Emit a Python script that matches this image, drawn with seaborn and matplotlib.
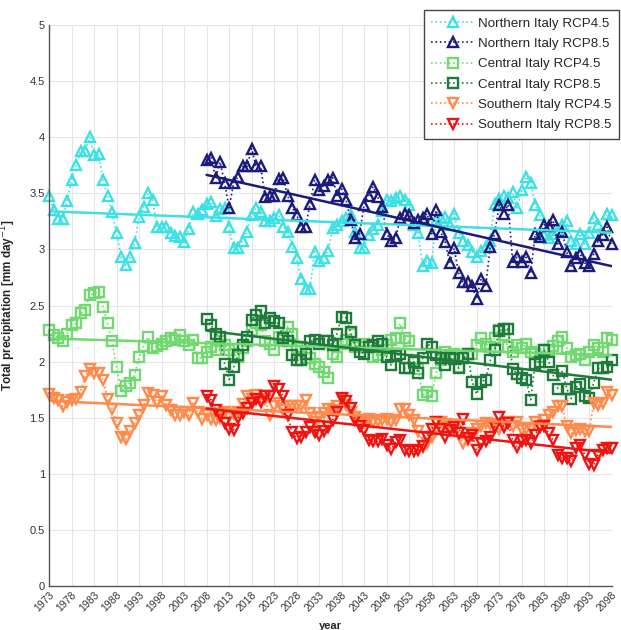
import numpy as np
import pandas as pd
import seaborn as sns
import matplotlib.pyplot as plt

# Years covered by the two kinds of run
years_45 = np.arange(1973, 2099)
years_85 = np.arange(2008, 2099)

# Northern Italy
north_rcp45 = [
    3.48, 3.35, 3.27, 3.27, 3.43, 3.62, 3.75, 3.88, 3.88, 4.00,
    3.84, 3.85, 3.62, 3.48, 3.33, 3.15, 2.93, 2.86, 2.93, 3.06,
    3.29, 3.38, 3.50, 3.44, 3.20, 3.20, 3.20, 3.15, 3.12, 3.11,
    3.07, 3.18, 3.33, 3.32, 3.35, 3.41, 3.42, 3.30, 3.36, 3.37,
    3.20, 3.01, 3.01, 3.08, 3.16, 3.31, 3.37, 3.33, 3.25, 3.25,
    3.28, 3.31, 3.20, 3.16, 3.02, 2.92, 2.74, 2.65, 2.65, 2.98,
    2.90, 2.92, 2.99, 3.19, 3.22, 3.25, 3.28, 3.31, 3.16, 3.01,
    3.01, 3.13, 3.18, 3.22, 3.34, 3.44, 3.43, 3.46, 3.48, 3.44,
    3.40, 3.22, 3.15, 2.85, 2.90, 2.88, 3.26, 3.28, 3.29, 3.22,
    3.32, 3.15, 3.08, 3.04, 2.98, 2.93, 2.99, 3.02, 3.08, 3.41,
    3.45, 3.48, 3.46, 3.51, 3.37, 3.53, 3.65, 3.59, 3.40, 3.31,
    3.13, 3.10, 3.14, 3.17, 3.22, 3.25, 3.08, 3.05, 3.14, 3.05,
    3.15, 3.28, 3.22, 3.13, 3.32, 3.31,
]
north_rcp85 = [
    3.80, 3.82, 3.64, 3.78, 3.59, 3.37, 3.59, 3.65, 3.74, 3.74,
    3.90, 3.74, 3.74, 3.47, 3.48, 3.48, 3.63, 3.64, 3.48, 3.37,
    3.31, 3.20, 3.20, 3.41, 3.62, 3.53, 3.57, 3.62, 3.64, 3.48,
    3.54, 3.44, 3.26, 3.10, 3.14, 3.40, 3.48, 3.56, 3.47, 3.38,
    3.14, 3.08, 3.10, 3.28, 3.32, 3.31, 3.24, 3.26, 3.28, 3.32,
    3.14, 3.35, 3.16, 3.07, 2.88, 3.01, 2.79, 2.71, 2.71, 2.67,
    2.56, 2.74, 2.67, 3.02, 3.14, 3.40, 3.32, 3.40, 2.89, 2.93,
    2.89, 2.93, 2.79, 3.14, 3.11, 3.22, 3.21, 3.26, 3.05, 3.16,
    2.98, 2.85, 2.92, 2.96, 2.88, 2.85, 2.96, 3.08, 3.13, 3.20,
    3.05,
]

# Central Italy
central_rcp45 = [
    2.28, 2.24, 2.21, 2.18, 2.25, 2.33, 2.34, 2.43, 2.46, 2.59,
    2.61, 2.62, 2.49, 2.34, 2.18, 1.95, 1.74, 1.78, 1.81, 1.88,
    2.04, 2.14, 2.22, 2.12, 2.14, 2.16, 2.18, 2.21, 2.19, 2.24,
    2.18, 2.15, 2.19, 2.03, 2.03, 2.09, 2.13, 2.10, 2.18, 2.15,
    2.10, 2.07, 2.04, 2.12, 2.18, 2.28, 2.34, 2.33, 2.18, 2.16,
    2.10, 2.22, 2.19, 2.31, 2.25, 2.12, 2.13, 2.03, 2.03, 1.98,
    1.95, 1.91, 1.85, 2.07, 2.04, 2.16, 2.19, 2.25, 2.13, 2.13,
    2.16, 2.15, 2.04, 2.06, 2.10, 2.15, 2.19, 2.21, 2.34, 2.21,
    2.18, 2.01, 1.93, 1.70, 1.73, 1.69, 1.90, 2.01, 2.09, 2.04,
    2.07, 1.95, 2.03, 2.07, 2.07, 2.15, 2.21, 2.16, 2.13, 2.21,
    2.28, 2.24, 2.13, 2.09, 2.15, 2.12, 2.16, 2.09, 2.07, 2.04,
    2.10, 2.10, 2.14, 2.18, 2.22, 2.12, 2.04, 2.06, 2.07, 2.01,
    2.09, 2.15, 2.12, 2.09, 2.21, 2.19,
]
central_rcp85 = [
    2.38, 2.33, 2.25, 2.22, 1.98, 1.84, 1.95, 2.06, 2.15, 2.22,
    2.37, 2.42, 2.45, 2.34, 2.39, 2.36, 2.34, 2.21, 2.18, 2.06,
    2.01, 2.01, 2.07, 2.18, 2.19, 2.16, 2.18, 2.18, 2.15, 2.25,
    2.40, 2.39, 2.26, 2.15, 2.09, 2.07, 2.13, 2.15, 2.18, 2.16,
    2.04, 1.97, 2.05, 2.07, 1.94, 1.94, 2.00, 1.90, 2.03, 2.16,
    2.13, 2.06, 2.03, 1.97, 2.03, 2.02, 1.94, 2.03, 2.07, 1.82,
    1.71, 1.82, 1.84, 2.01, 2.10, 2.27, 2.29, 2.29, 1.93, 1.89,
    1.85, 1.84, 1.66, 1.98, 2.00, 2.10, 2.00, 1.88, 1.76, 1.92,
    1.76, 1.67, 1.77, 1.80, 1.69, 1.68, 1.81, 1.94, 1.94, 1.95,
    2.01,
]

# Southern Italy
south_rcp45 = [
    1.71, 1.68, 1.66, 1.60, 1.64, 1.66, 1.67, 1.73, 1.87, 1.93,
    1.90, 1.90, 1.84, 1.67, 1.58, 1.45, 1.33, 1.31, 1.38, 1.45,
    1.52, 1.61, 1.72, 1.70, 1.64, 1.69, 1.61, 1.57, 1.52, 1.52,
    1.55, 1.52, 1.63, 1.55, 1.49, 1.52, 1.49, 1.48, 1.50, 1.55,
    1.51, 1.53, 1.55, 1.62, 1.69, 1.67, 1.70, 1.66, 1.67, 1.52,
    1.60, 1.63, 1.57, 1.60, 1.60, 1.60, 1.60, 1.66, 1.54, 1.46,
    1.51, 1.54, 1.58, 1.57, 1.60, 1.67, 1.61, 1.55, 1.51, 1.45,
    1.46, 1.49, 1.46, 1.47, 1.48, 1.49, 1.46, 1.48, 1.58, 1.58,
    1.52, 1.48, 1.38, 1.24, 1.27, 1.33, 1.39, 1.46, 1.44, 1.42,
    1.39, 1.36, 1.27, 1.30, 1.36, 1.40, 1.43, 1.45, 1.44, 1.43,
    1.40, 1.43, 1.46, 1.43, 1.46, 1.39, 1.40, 1.40, 1.46, 1.43,
    1.48, 1.52, 1.55, 1.60, 1.60, 1.43, 1.36, 1.39, 1.40, 1.38,
    1.38, 1.63, 1.61, 1.63, 1.73, 1.70,
]
south_rcp85 = [
    1.69, 1.66, 1.57, 1.52, 1.45, 1.40, 1.39, 1.50, 1.54, 1.59,
    1.63, 1.67, 1.64, 1.69, 1.69, 1.78, 1.76, 1.69, 1.52, 1.37,
    1.32, 1.33, 1.37, 1.42, 1.37, 1.35, 1.38, 1.42, 1.48, 1.55,
    1.68, 1.65, 1.59, 1.48, 1.43, 1.39, 1.30, 1.29, 1.29, 1.31,
    1.26, 1.22, 1.28, 1.30, 1.21, 1.20, 1.20, 1.21, 1.25, 1.33,
    1.40, 1.46, 1.40, 1.33, 1.39, 1.42, 1.36, 1.49, 1.32, 1.35,
    1.21, 1.27, 1.29, 1.33, 1.42, 1.51, 1.42, 1.45, 1.30, 1.24,
    1.29, 1.30, 1.27, 1.35, 1.42, 1.43, 1.36, 1.30, 1.17, 1.14,
    1.14, 1.11, 1.23, 1.26, 1.17, 1.09, 1.08, 1.17, 1.21, 1.23,
    1.23,
]

labels = ["Northern Italy RCP4.5", "Northern Italy RCP8.5",
          "Central Italy RCP4.5", "Central Italy RCP8.5",
          "Southern Italy RCP4.5", "Southern Italy RCP8.5"]
colors = ["#3fe0e4", "#1b1b7c", "#72d872", "#1f7a3c", "#ff8a4c", "#ee1414"]
markers = ["^", "^", "s", "s", "v", "v"]
year_sets = [years_45, years_85, years_45, years_85, years_45, years_85]
value_sets = [north_rcp45, north_rcp85, central_rcp45, central_rcp85,
              south_rcp45, south_rcp85]

sns.set_style("whitegrid")
plt.rcParams['font.family'] = ['Liberation Sans', 'DejaVu Sans']

fig = plt.figure(figsize=(6.21, 6.30), dpi=100)
ax = fig.add_axes([0.079, 0.070, 0.906, 0.890])

# yearly series: dotted line with open markers
for lab, yrs, vals, col, mk in zip(labels, year_sets, value_sets, colors, markers):
    sns.lineplot(x=yrs, y=vals, ax=ax, color=col, linestyle=':', linewidth=1.2,
                 marker=mk, markersize=6.5, markerfacecolor='none',
                 markeredgecolor=col, markeredgewidth=1.7, label=lab, clip_on=False)

# linear trends
for yrs, vals, col in zip(year_sets, value_sets, colors):
    sns.regplot(x=yrs, y=vals, ax=ax, scatter=False, ci=None, color=col,
                line_kws={'linewidth': 1.8})

ax.set_xlim(1973, 2098)
ax.set_ylim(0, 5)
xt = np.arange(1973, 2099, 5)
ax.set_xticks(xt)
ax.set_xticklabels([str(v) for v in xt], rotation=45, ha='right',
                   rotation_mode='anchor', fontsize=7.5)
yt = np.arange(0, 5.01, 0.5)
ax.set_yticks(yt)
ax.set_yticklabels(['%g' % v for v in yt], fontsize=8)
ax.tick_params(direction='in', length=4, color='#555555', labelcolor='#333333', pad=3)
ax.grid(True, color='#e6e6e6', linewidth=0.8)
for s in ['top', 'right']:
    ax.spines[s].set_visible(False)
for s in ['left', 'bottom']:
    ax.spines[s].set_color('#555555')
    ax.spines[s].set_linewidth(1.0)

ax.set_ylabel('Total precipitation [mm day$^{-1}$]', fontsize=8.5, fontweight='bold')
ax.yaxis.set_label_coords(-0.055, 0.5)
ax.set_xlabel('year', fontsize=8, fontweight='bold')
ax.xaxis.set_label_coords(0.5, -0.063)

ax.legend(loc='upper left', bbox_to_anchor=(424 / 621, 1 - 10 / 630),
          bbox_transform=fig.transFigure, fontsize=9.6, frameon=True,
          fancybox=False, edgecolor='#444444', framealpha=1, borderaxespad=0,
          handlelength=3.2, handletextpad=0.3, labelspacing=0.6, borderpad=0.55)

fig.savefig('out.png', dpi=100)
